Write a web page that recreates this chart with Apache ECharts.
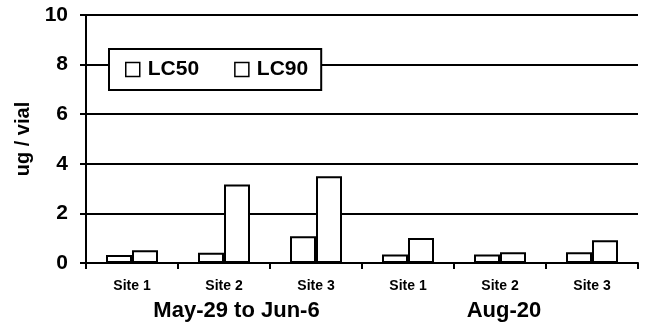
<!DOCTYPE html>
<html>
<head>
<meta charset="utf-8">
<script src="https://cdn.jsdelivr.net/npm/echarts@6/dist/echarts.min.js"></script>
<style>html,body{margin:0;padding:0;background:#fff}#c{width:646px;height:331px}</style>
</head>
<body>
<div id="c"></div>
<script>
const categories = ['Site 1', 'Site 2', 'Site 3', 'Site 1', 'Site 2', 'Site 3'];
const groups = ['May-29 to Jun-6', 'Aug-20'];
const lc50 = [0.32, 0.41, 1.08, 0.34, 0.34, 0.43];
const lc90 = [0.51, 3.17, 3.50, 1.01, 0.43, 0.92];
const yTicks = { min: 0, max: 10, interval: 2 };

const FONT = '"Liberation Sans", Arial, sans-serif';
const chart = echarts.init(document.getElementById('c'), null, { renderer: 'canvas' });
const barStyle = { color: '#fff', borderColor: '#000', borderWidth: 2 };
chart.setOption({
  animation: false,
  backgroundColor: '#fff',
  textStyle: { fontFamily: FONT, fontWeight: 'bold', color: '#000' },
  grid: { left: 86, right: 8, top: 15, bottom: 68 },
  legend: {
    left: 109, top: 49,
    padding: [10, 13, 10, 16],
    backgroundColor: '#fff',
    borderColor: '#000', borderWidth: 2,
    itemWidth: 14, itemHeight: 14, itemGap: 35,
    icon: 'rect',
    itemStyle: { color: '#fff', borderColor: '#000', borderWidth: 1.5 },
    textStyle: { fontFamily: FONT, fontWeight: 'bold', fontSize: 21, color: '#000', padding: [0, 0, 0, 3] },
    data: ['LC50', 'LC90']
  },
  xAxis: [{
    type: 'category', data: categories, position: 'bottom',
    axisLine: { lineStyle: { color: '#000', width: 2 } },
    axisTick: { show: true, length: 6, lineStyle: { color: '#000', width: 2 } },
    axisLabel: { fontFamily: FONT, fontWeight: 'bold', fontSize: 14, color: '#000', margin: 16 }
  }, {
    type: 'category', data: groups, position: 'bottom',
    axisLine: { show: false }, axisTick: { show: false },
    axisLabel: {
      margin: 37, color: '#000',
      formatter: (v, i) => (i === 0 ? '{a|' : '{b|') + v + '}',
      rich: {
        a: { fontFamily: FONT, fontWeight: 'bold', fontSize: 22, color: '#000', padding: [0, 0, 0, 25] },
        b: { fontFamily: FONT, fontWeight: 'bold', fontSize: 22, color: '#000', padding: [0, 0, 0, 8] }
      }
    }
  }],
  yAxis: {
    type: 'value', min: yTicks.min, max: yTicks.max, interval: yTicks.interval,
    name: 'ug / vial', nameLocation: 'middle', nameGap: 48,
    nameTextStyle: { fontFamily: FONT, fontWeight: 'bold', fontSize: 20, color: '#000' },
    axisLine: { show: true, lineStyle: { color: '#000', width: 2 } },
    axisTick: { show: true, length: 6, lineStyle: { color: '#000', width: 2 } },
    splitLine: { show: true, lineStyle: { color: '#000', width: 2 } },
    axisLabel: { fontFamily: FONT, fontWeight: 'bold', fontSize: 21, color: '#000', margin: 18 }
  },
  series: [
    { name: 'LC50', type: 'bar', data: lc50, barWidth: 26, barGap: '0%', itemStyle: barStyle },
    { name: 'LC90', type: 'bar', data: lc90, barWidth: 26, barGap: '0%', itemStyle: barStyle }
  ]
});
</script>
</body>
</html>
